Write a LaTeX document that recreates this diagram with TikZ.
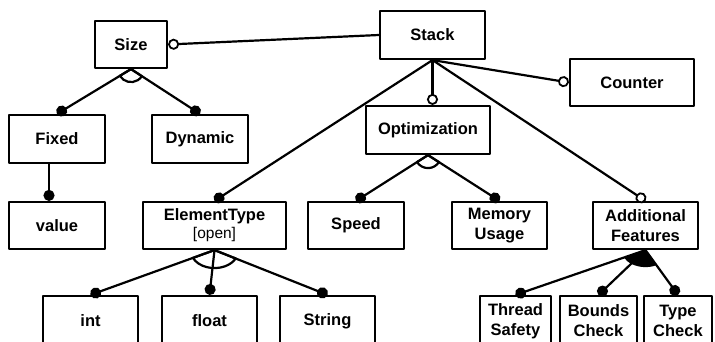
\documentclass[tikz,border=0pt]{standalone}
\usepackage{fontspec}
\setmainfont{Liberation Sans}
\usetikzlibrary{arrows.meta,calc}

% alternative (open arc) / or (filled wedge) group below a parent
\newcommand{\featgroup}[6][draw]{%
  \path[#1] let \p1=($(#3.north)-(#2)$), \p2=($(#4.north)-(#2)$),
    \n1={atan2((#5)*(\y1),(#6)*(\x1))}, \n2={atan2((#5)*(\y2),(#6)*(\x2))} in
    (#2) -- ($(#2)+(\n1:#5pt and #6pt)$)
    arc[start angle=\n1, end angle=\n2, x radius=#5pt, y radius=#6pt] -- cycle;}

\begin{document}
\begin{tikzpicture}[x=1pt,y=1pt,line width=2.2pt,line join=round,
    feat/.style={rectangle,draw,fill=white,align=center,inner sep=1pt,
      font=\fontsize{16.5}{20}\selectfont\bfseries},
    mand/.style={-{Circle[length=11pt]}},
    opt/.style={-{Circle[open,fill=white,length=11pt,line width=1.8pt]}}]
  \clip (0,0) rectangle (715,-342);
  \fill[white] (0,0) rectangle (715,-342);

  % top level
  \node[feat,minimum width=105pt,minimum height=48pt] (stack) at (432.5,-35) {Stack};
  \node[feat,minimum width=72pt,minimum height=47pt] (size) at (131,-44.5) {Size};
  \node[feat,minimum width=124pt,minimum height=47pt] (counter) at (632,-82.5) {Counter};

  % second level
  \node[feat,minimum width=96pt,minimum height=48pt] (fixed) at (57,-139) {Fixed};
  \node[feat,minimum width=96pt,minimum height=48pt] (dynamic) at (200,-139) {Dynamic};
  \node[feat,minimum width=124pt,minimum height=48pt] (optim) at (428,-130) {Optimization};

  % third level
  \node[feat,minimum width=96pt,minimum height=47pt] (value) at (57,-225.5) {value};
  \node[feat,minimum width=143pt,minimum height=47pt] (elemtype) at (214.5,-225.5)
    {ElementType\\[-2pt]{\fontsize{15.5}{18}\selectfont\mdseries[open]}};
  \node[feat,minimum width=96pt,minimum height=47pt] (speed) at (356,-225.5) {Speed};
  \node[feat,minimum width=95pt,minimum height=47pt] (memory) at (499.5,-225.5) {Memory\\Usage};
  \node[feat,minimum width=105pt,minimum height=47pt] (addfeat) at (645.5,-225.5) {Additional\\Features};

  % bottom row (cut by the frame)
  \node[feat,minimum width=95pt,minimum height=50pt] (int) at (90.5,-321) {int};
  \node[feat,minimum width=95pt,minimum height=50pt] (float) at (209.5,-321) {float};
  \node[feat,minimum width=95pt,minimum height=50pt] (string) at (327.5,-321) {String};
  \node[feat,minimum width=71pt,minimum height=50pt] (thread) at (515.5,-321) {Thread\\Safety};
  \node[feat,minimum width=77pt,minimum height=50pt] (bounds) at (598.5,-321) {Bounds\\Check};
  \node[feat,minimum width=68pt,minimum height=50pt] (typecheck) at (678,-321) {Type\\Check};

  % connectors
  \draw[opt] (stack.west) -- (size.east);
  \draw[opt] (stack.south) -- (counter.west);
  \draw[opt] (stack.south) -- (stack.south |- optim.north);
  \draw[opt] (stack.south) -- (addfeat.north);
  \draw[mand] (stack.south) -- (elemtype.north);

  \draw[mand] (size.south) -- (fixed.north);
  \draw[mand] (size.south) -- (dynamic.north);
  \draw[mand] ([xshift=-8pt]fixed.south) -- ([xshift=-8pt]value.north);

  \draw[mand] (optim.south) -- (speed.north);
  \draw[mand] (optim.south) -- (memory.north);

  \draw[mand] (elemtype.south) -- (int.north);
  \draw[mand] (elemtype.south) -- (float.north);
  \draw[mand] (elemtype.south) -- (string.north);

  \draw[mand] (addfeat.south) -- (thread.north);
  \draw[mand] (addfeat.south) -- (bounds.north);
  \draw[mand] (addfeat.south) -- (typecheck.north);

  % groups
  \featgroup{size.south}{fixed}{dynamic}{13}{13}
  \featgroup{optim.south}{speed}{memory}{13}{13}
  \featgroup{elemtype.south}{int}{string}{24}{18}
  \featgroup[fill]{addfeat.south}{thread}{typecheck}{24}{17}
\end{tikzpicture}
\end{document}
